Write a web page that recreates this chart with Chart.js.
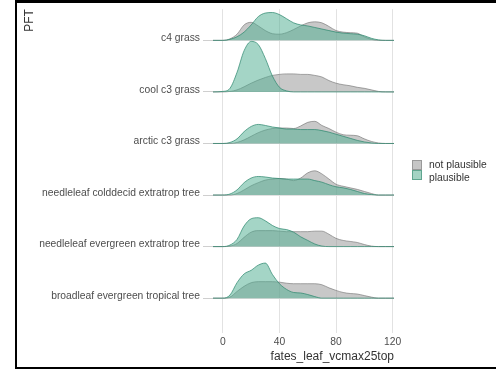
<!DOCTYPE html>
<html>
<head>
<meta charset="utf-8">
<script src="https://cdn.jsdelivr.net/npm/chart.js@4"></script>
<style>
  html, body { margin: 0; padding: 0; background: #fff; }
  #wrap { position: relative; width: 496px; height: 369px; font-family: "Liberation Sans", Arial, sans-serif; }
  #frame { position: absolute; left: 15px; top: 0; width: 481px; height: 369px; box-sizing: border-box;
           border-top: 3px solid #000; border-left: 2px solid #000; border-bottom: 2px solid #000; pointer-events: none; }
  .lg { position: absolute; font-size: 10.3px; color: #333; }
  .sw { position: absolute; width: 10px; height: 10px; box-sizing: border-box; }
</style>
</head>
<body>
<div id="wrap">
  <canvas id="ridges" width="496" height="369"></canvas>
  <div id="frame"></div>
  <div class="sw" style="left:412px;top:160px;background:#c6c6c6;border:1px solid #9a9a9a;"></div>
  <div class="sw" style="left:412px;top:170px;background:#a3d3c3;border:1px solid #5fa58f;"></div>
  <div class="lg" style="left:429px;top:159px;">not plausible</div>
  <div class="lg" style="left:429px;top:172px;">plausible</div>
</div>
<script>
// PFT rows, bottom to top (row index + 1 = baseline on the y axis)
const categories = [
    'broadleaf evergreen tropical tree',
    'needleleaf evergreen extratrop tree',
    'needleleaf colddecid extratrop tree',
    'arctic c3 grass',
    'cool c3 grass',
    'c4 grass'
];

// density grid for fates_leaf_vcmax25top
const xs = [-7, 0, 5, 10, 15, 20, 25, 30, 35, 40, 45, 50, 55, 60, 65, 70, 75, 80, 85, 90, 95, 100, 105, 110, 115, 121];
const xTicks = [0, 40, 80, 120];

// ridge heights (in row units), "not plausible" / "plausible"
const broadleafNot = [0, 0, .02, .13, .23, .30, .32, .32, .32, .31, .29, .28, .28, .28, .28, .26, .20, .15, .11, .09, .08, .05, .02, 0, 0, 0];
const broadleafYes = [0, 0, .06, .30, .47, .54, .64, .68, .46, .28, .17, .11, .10, .07, .03, 0, 0, 0, 0, 0, 0, 0, 0, 0, 0, 0];
const evergreenNot = [0, 0, .01, .06, .18, .28, .31, .31, .31, .30, .29, .29, .29, .29, .30, .30, .24, .16, .12, .10, .08, .04, .01, 0, 0, 0];
const evergreenYes = [0, 0, .03, .14, .40, .54, .56, .50, .41, .35, .33, .28, .19, .12, .05, .01, 0, 0, 0, 0, 0, 0, 0, 0, 0, 0];
const colddecidNot = [0, 0, 0, .03, .10, .18, .24, .29, .31, .32, .31, .28, .33, .43, .47, .41, .31, .21, .17, .14, .11, .07, .03, 0, 0, 0];
const colddecidYes = [0, 0, .02, .10, .24, .33, .36, .35, .33, .32, .31, .31, .31, .31, .28, .25, .20, .16, .14, .11, .07, .03, .01, 0, 0, 0];
const arcticNot = [0, 0, 0, .02, .07, .14, .21, .26, .29, .30, .30, .29, .34, .41, .43, .35, .29, .22, .17, .16, .15, .09, .04, .01, 0, 0];
const arcticYes = [0, 0, .02, .09, .23, .33, .37, .35, .32, .30, .28, .28, .27, .27, .27, .25, .22, .18, .14, .10, .06, .03, .01, 0, 0, 0];
const coolNot = [0, 0, .01, .04, .10, .17, .23, .28, .32, .34, .35, .35, .34, .34, .32, .29, .22, .17, .14, .12, .09, .07, .04, .01, 0, 0];
const coolYes = [0, .01, .07, .38, .80, .98, .92, .65, .31, .09, .02, 0, 0, 0, 0, 0, 0, 0, 0, 0, 0, 0, 0, 0, 0, 0];
const c4Not = [0, 0, .03, .12, .30, .35, .28, .19, .13, .12, .15, .21, .28, .34, .36, .34, .27, .19, .16, .15, .14, .07, .02, 0, 0, 0];
const c4Yes = [0, 0, .02, .07, .16, .30, .46, .53, .54, .50, .42, .34, .30, .28, .25, .22, .19, .16, .14, .13, .12, .09, .04, .01, 0, 0];

const ridges = [
    [broadleafNot, broadleafYes],
    [evergreenNot, evergreenYes],
    [colddecidNot, colddecidYes],
    [arcticNot, arcticYes],
    [coolNot, coolYes],
    [c4Not, c4Yes]
];

const grayFill = 'rgba(150,150,150,0.52)';
const grayLine = 'rgba(110,110,110,0.75)';
const tealFill = 'rgba(80,175,145,0.52)';
const tealLine = 'rgba(45,135,110,0.9)';

function ridge(vals, base, fill, line) {
    return {
        data: xs.map((x, i) => ({ x: x, y: base + vals[i] })),
        fill: { value: base },
        backgroundColor: fill,
        borderColor: line,
        borderWidth: 0.8,
        pointRadius: 0,
        cubicInterpolationMode: 'monotone'
    };
}

// chart.js paints dataset 0 last, so the bottom row and "plausible" go first
const datasets = [];
ridges.forEach((r, i) => {
    datasets.push(ridge(r[1], i + 1, tealFill, tealLine));
    datasets.push(ridge(r[0], i + 1, grayFill, grayLine));
});

const gridColor = '#e2e2e2';

new Chart(document.getElementById('ridges'), {
    type: 'line',
    data: { datasets: datasets },
    options: {
        responsive: false,
        animation: false,
        layout: { padding: { left: 17, right: 102, top: 8, bottom: 0 } },
        plugins: { legend: { display: false }, tooltip: { enabled: false } },
        scales: {
            x: {
                type: 'linear',
                min: -7,
                max: 121,
                afterBuildTicks: (s) => { s.ticks = xTicks.map(v => ({ value: v })); },
                afterFit: (s) => { s.height = 36; },
                grid: { color: gridColor, drawTicks: false },
                border: { display: false },
                ticks: { padding: 3, color: '#4d4d4d', font: { size: 10.3, family: 'Liberation Sans' } },
                title: {
                    display: true, text: 'fates_leaf_vcmax25top', align: 'end',
                    color: '#333', font: { size: 12, family: 'Liberation Sans' },
                    padding: { top: 0, bottom: 5 }
                }
            },
            y: {
                type: 'linear',
                min: 0.324,
                max: 6.605,
                afterBuildTicks: (s) => { s.ticks = categories.map((c, i) => ({ value: i + 1 })); },
                afterFit: (s) => { s.width = 196; },
                grid: { color: gridColor, tickColor: '#cfcfcf', tickLength: 10 },
                border: { display: false },
                ticks: {
                    padding: 3, labelOffset: -2, color: '#4d4d4d',
                    font: { size: 10.3, family: 'Liberation Sans' },
                    callback: (v) => categories[v - 1]
                },
                title: {
                    display: true, text: 'PFT', align: 'end',
                    color: '#333', font: { size: 12, family: 'Liberation Sans' },
                    padding: { top: 5, bottom: 0 }
                }
            }
        }
    }
});
</script>
</body>
</html>
